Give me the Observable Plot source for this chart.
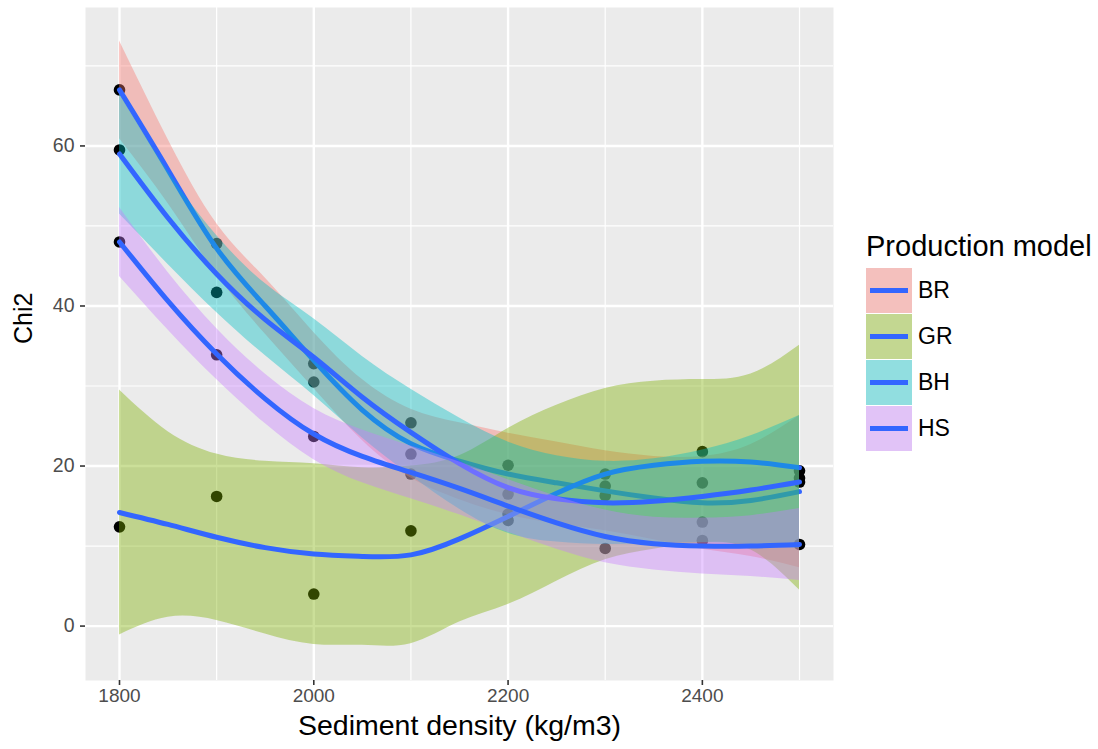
<!DOCTYPE html>
<html>
<head>
<meta charset="utf-8">
<script src="https://cdn.jsdelivr.net/npm/d3@7"></script>
<script src="https://cdn.jsdelivr.net/npm/@observablehq/plot@0.6"></script>
<style>
  html, body { margin: 0; padding: 0; background: #ffffff; }
  #wrap { position: relative; width: 1098px; height: 749px; font-family: "Liberation Sans", Arial, Helvetica, sans-serif; }
  #legend { position: absolute; left: 866px; top: 229px; }
  #legend .title { font-size: 29px; color: #000; line-height: 34px; margin-bottom: 5px; white-space: nowrap; }
  #legend .row { display: flex; align-items: center; height: 45px; margin-bottom: 1px; }
  #legend .key { position: relative; width: 46px; height: 45px; }
  #legend .key .line { position: absolute; left: 4px; right: 4px; top: 20px; height: 5px; background: #3366FF; }
  #legend .lab { font-size: 23px; color: #000; margin-left: 6px; }
</style>
</head>
<body>
<div id="wrap"></div>
<script>
// Production models, in drawing order
const models = ["BR", "GR", "BH", "HS"];
const modelColors = ["#F8766D", "#7CAE00", "#00BFC4", "#C77CFF"];

// Observed chi2 per sediment density
const density = [1800, 1900, 2000, 2100, 2200, 2300, 2400, 2500];
const chiBR = [67.0, 47.8, 32.8, 21.5, 16.5, 17.5, 13.0, 18.5];
const chiGR = [12.4, 16.2, 4.0, 11.9, 14.0, 19.0, 21.8, 19.4];
const chiBH = [59.5, 41.7, 30.5, 25.4, 20.1, 16.3, 17.9, 18.0];
const chiHS = [48.0, 33.9, 23.7, 19.0, 13.2, 9.7, 10.7, 10.2];

// Smoothed fit with its confidence band, sampled along density
const grid = [1800, 1850, 1900, 1950, 2000, 2050, 2100, 2150, 2200, 2250, 2300, 2350, 2400, 2450, 2500];
const fitBR = [67.0, 57.0, 47.2, 40.0, 33.2, 27.0, 22.8, 20.6, 19.0, 17.9, 16.9, 16.0, 15.4, 15.7, 16.8];
const loBR  = [60.9, 52.8, 43.9, 36.5, 29.7, 23.2, 18.5, 15.8, 13.9, 12.8, 11.9, 10.8, 9.6, 8.7, 7.3];
const hiBR  = [73.1, 60.8, 50.3, 43.5, 36.7, 30.8, 27.1, 25.4, 24.1, 23.0, 21.9, 21.2, 21.2, 22.7, 26.3];

const fitGR = [14.2, 12.7, 11.1, 9.8, 9.0, 8.7, 8.9, 10.9, 13.7, 16.6, 19.0, 20.1, 20.6, 20.5, 19.8];
const loGR  = [-1.1, 1.1, 0.7, -1.0, -2.3, -2.4, -2.2, 0.5, 2.7, 5.6, 8.3, 9.6, 10.4, 9.5, 4.5];
const hiGR  = [29.5, 24.3, 21.5, 20.6, 20.3, 19.8, 20.0, 21.3, 24.7, 27.6, 29.7, 30.6, 30.8, 31.5, 35.1];

const fitBH = [59.0, 51.0, 44.0, 38.3, 33.6, 28.6, 24.2, 20.3, 17.3, 15.9, 15.4, 15.6, 16.2, 17.0, 18.0];
const loBH  = [51.5, 45.2, 39.2, 33.8, 28.8, 23.5, 18.8, 14.6, 11.6, 10.5, 10.2, 10.3, 10.4, 10.2, 9.7];
const hiBH  = [66.5, 56.8, 48.8, 42.8, 38.4, 33.7, 29.6, 26.0, 23.0, 21.3, 20.6, 20.9, 22.0, 23.8, 26.3];

const fitHS = [48.0, 40.6, 34.0, 28.4, 24.0, 21.2, 19.2, 17.2, 15.0, 12.9, 11.2, 10.3, 10.0, 10.0, 10.2];
const loHS  = [43.7, 37.0, 30.8, 25.3, 20.8, 17.9, 15.9, 13.9, 11.7, 9.6, 7.9, 7.0, 6.5, 6.2, 5.7];
const hiHS  = [52.3, 44.2, 37.2, 31.5, 27.2, 24.5, 22.5, 20.5, 18.3, 16.2, 14.5, 13.6, 13.5, 13.8, 14.7];

// Axis ticks and grid
const majorX = [1800, 2000, 2200, 2400];
const minorX = [1900, 2100, 2300, 2500];
const majorY = [0, 20, 40, 60];
const minorY = [10, 30, 50, 70];

const observed = [chiBR, chiGR, chiBH, chiHS];
const fits = [fitBR, fitGR, fitBH, fitHS];
const lows = [loBR, loGR, loBH, loHS];
const highs = [hiBR, hiGR, hiBH, hiHS];

const points = models.flatMap((m, i) => density.map((d, j) => ({model: m, density: d, chi2: observed[i][j]})));
const smooths = models.map((m, i) => grid.map((d, j) => ({model: m, density: d, fit: fits[i][j], lo: lows[i][j], hi: highs[i][j]})));

// ribbon then line for each model, in order, so later bands wash over earlier lines
const smoothMarks = smooths.flatMap((rows, i) => [
  Plot.areaY(rows, {x: "density", y1: "lo", y2: "hi", fill: modelColors[i], fillOpacity: 0.4, curve: "natural"}),
  Plot.line(rows, {x: "density", y: "fit", stroke: "#3366FF", strokeWidth: 5, curve: "natural"})
]);

const chart = Plot.plot({
  width: 1098,
  height: 749,
  marginLeft: 85,
  marginRight: 265,
  marginTop: 7,
  marginBottom: 69,
  style: {fontFamily: "'Liberation Sans', Arial, Helvetica, sans-serif", background: "#ffffff"},
  x: {domain: [1765, 2535]},
  y: {domain: [-6.8, 77.3]},
  marks: [
    Plot.frame({fill: "#EBEBEB", stroke: null}),
    Plot.ruleX(minorX, {stroke: "#ffffff", strokeWidth: 1.2}),
    Plot.ruleY(minorY, {stroke: "#ffffff", strokeWidth: 1.2}),
    Plot.ruleX(majorX, {stroke: "#ffffff", strokeWidth: 2.4}),
    Plot.ruleY(majorY, {stroke: "#ffffff", strokeWidth: 2.4}),
    Plot.axisX(majorX, {tickSize: 5, tickPadding: 3, fontSize: 19, tickFormat: d => String(d), stroke: "#333333", fill: "#4D4D4D", strokeWidth: 1.6, label: null}),
    Plot.axisY(majorY, {tickSize: 5, tickPadding: 6, fontSize: 19.5, tickFormat: d => String(d), stroke: "#333333", fill: "#4D4D4D", strokeWidth: 1.6, label: null}),
    Plot.dot(points, {x: "density", y: "chi2", r: 5.8, fill: "#000000", stroke: null}),
    ...smoothMarks,
    Plot.text(["Sediment density (kg/m3)"], {frameAnchor: "bottom", dy: 54, fontSize: 28.5, fill: "#000000"}),
    Plot.text(["Chi2"], {frameAnchor: "left", dx: -62, rotate: -90, fontSize: 25, fill: "#000000"})
  ]
});

const wrap = document.getElementById("wrap");
wrap.appendChild(chart);

// legend: fill swatch with the smoothing line over it
const legend = document.createElement("div");
legend.id = "legend";
const title = document.createElement("div");
title.className = "title";
title.textContent = "Production model";
legend.appendChild(title);
models.forEach((m, i) => {
  const row = document.createElement("div");
  row.className = "row";
  const key = document.createElement("div");
  key.className = "key";
  const c = d3.color(modelColors[i]);
  const bg = d3.color("#F2F2F2");
  key.style.background = d3.rgb(
    c.r * 0.4 + bg.r * 0.6,
    c.g * 0.4 + bg.g * 0.6,
    c.b * 0.4 + bg.b * 0.6
  ).formatHex();
  const line = document.createElement("div");
  line.className = "line";
  key.appendChild(line);
  const lab = document.createElement("div");
  lab.className = "lab";
  lab.textContent = m;
  row.appendChild(key);
  row.appendChild(lab);
  legend.appendChild(row);
});
wrap.appendChild(legend);
</script>
</body>
</html>
